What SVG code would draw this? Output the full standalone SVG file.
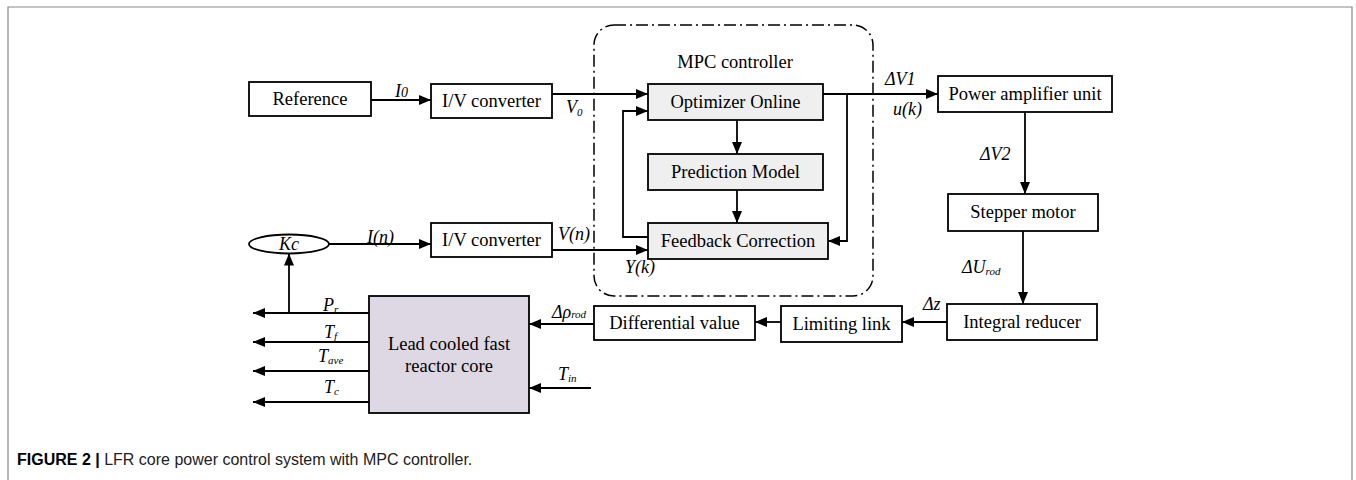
<svg xmlns="http://www.w3.org/2000/svg" width="1356" height="480" viewBox="0 0 1356 480">
<defs>
<marker id="ah" viewBox="0 0 12 10" refX="12" refY="5" markerWidth="12" markerHeight="10" markerUnits="userSpaceOnUse" orient="auto"><path d="M0,0 L12,5 L0,10 z" fill="#000"/></marker>
<style>
.box{fill:#fff;stroke:#000;stroke-width:1.8}
.gbox{fill:#efefef;stroke:#000;stroke-width:1.8}
.core{fill:#ddd8e3;stroke:#000;stroke-width:1.8}
.t{font-family:"Liberation Serif","Times New Roman",serif;font-size:18.5px;fill:#000;text-anchor:middle}
.l{font-family:"Liberation Serif","Times New Roman",serif;font-size:18px;font-style:italic;fill:#000}
.s{font-size:11px}
.c line,.c path,.c polyline{stroke:#000;stroke-width:1.8;fill:none}
.a{marker-end:url(#ah)}
.cap{font-family:"Liberation Sans",Arial,sans-serif;font-size:16px;fill:#222}
</style>
</defs>
<rect width="1356" height="480" fill="#fff"/>
<path d="M8,480 V7 H1352 V480" fill="none" stroke="#888" stroke-width="1.2"/>

<g id="mpc-boundary">
<rect x="594" y="25" width="279" height="271" rx="20" fill="none" stroke="#000" stroke-width="1.5" stroke-dasharray="12 4 2 4"/>
<text class="t" x="735" y="68">MPC controller</text>
</g>

<g id="reference"><rect class="box" x="249" y="82" width="122" height="34"/><text class="t" x="310" y="105">Reference</text></g>
<g id="iv1"><rect class="box" x="431" y="84" width="121" height="34"/><text class="t" x="491.5" y="107">I/V converter</text></g>
<g id="optimizer"><rect class="gbox" x="648" y="84" width="175" height="36"/><text class="t" x="735.5" y="108">Optimizer Online</text></g>
<g id="prediction"><rect class="gbox" x="648" y="154" width="175" height="36"/><text class="t" x="735.5" y="178">Prediction Model</text></g>
<g id="feedback"><rect class="gbox" x="648" y="223" width="180" height="36"/><text class="t" x="738" y="247">Feedback Correction</text></g>
<g id="power-amp"><rect class="box" x="938" y="76" width="174" height="36"/><text class="t" x="1025" y="100">Power amplifier unit</text></g>
<g id="stepper"><rect class="box" x="948" y="194" width="150" height="37"/><text class="t" x="1023" y="218">Stepper motor</text></g>
<g id="integral"><rect class="box" x="947" y="304" width="150" height="36"/><text class="t" x="1022" y="328">Integral reducer</text></g>
<g id="limiting"><rect class="box" x="781" y="306" width="121" height="36"/><text class="t" x="841.5" y="330">Limiting link</text></g>
<g id="differential"><rect class="box" x="594" y="306" width="161" height="34"/><text class="t" x="674.5" y="329">Differential value</text></g>
<g id="core"><rect class="core" x="369" y="296" width="160" height="117"/><text class="t" x="449" y="350">Lead cooled fast</text><text class="t" x="449" y="372">reactor core</text></g>
<g id="iv2"><rect class="box" x="431" y="223" width="121" height="34"/><text class="t" x="491.5" y="246">I/V converter</text></g>
<g id="kc"><ellipse cx="289" cy="244" rx="40" ry="9.5" fill="#fff" stroke="#000" stroke-width="1.8"/><text class="l" x="289" y="250" text-anchor="middle">Kc</text></g>

<g id="connectors" class="c">
<line class="a" x1="371" y1="100" x2="431" y2="100"/>
<line class="a" x1="552" y1="94" x2="648" y2="94"/>
<line class="a" x1="823" y1="94" x2="938" y2="94"/>
<polyline class="a" points="847,94 847,241 828,241"/>
<line class="a" x1="737" y1="120" x2="737" y2="154"/>
<line class="a" x1="737" y1="190" x2="737" y2="223"/>
<polyline class="a" points="648,237 623,237 623,111 648,111"/>
<line class="a" x1="552" y1="250" x2="648" y2="250"/>
<line class="a" x1="329" y1="244" x2="431" y2="244"/>
<line class="a" x1="1025" y1="112" x2="1025" y2="194"/>
<line class="a" x1="1023" y1="231" x2="1023" y2="304"/>
<line class="a" x1="947" y1="322" x2="902" y2="322"/>
<line class="a" x1="781" y1="322" x2="755" y2="322"/>
<line class="a" x1="594" y1="324" x2="529" y2="324"/>
<line class="a" x1="591" y1="388" x2="529" y2="388"/>
<line class="a" x1="369" y1="313" x2="253" y2="313"/>
<line class="a" x1="369" y1="342" x2="253" y2="342"/>
<line class="a" x1="369" y1="371" x2="253" y2="371"/>
<line class="a" x1="369" y1="402" x2="253" y2="402"/>
<line class="a" x1="289" y1="313" x2="289" y2="253.5"/>
</g>

<g id="labels">
<text class="l" x="395" y="97">I<tspan font-size="14">0</tspan></text>
<text class="l" x="566" y="113">V<tspan class="s" dy="3">0</tspan></text>
<text class="l" x="885" y="85">ΔV1</text>
<text class="l" x="893" y="115">u(k)</text>
<text class="l" x="980" y="160">ΔV2</text>
<text class="l" x="962" y="273">ΔU<tspan class="s" dy="2">rod</tspan></text>
<text class="l" x="923" y="310">Δz</text>
<text class="l" x="552" y="318">Δρ<tspan class="s" dy="0">rod</tspan></text>
<text class="l" x="558" y="380">T<tspan class="s" dy="2">in</tspan></text>
<text class="l" x="323" y="311">P<tspan class="s" dy="2">r</tspan></text>
<text class="l" x="324" y="338">T<tspan class="s" dy="2">f</tspan></text>
<text class="l" x="318" y="362">T<tspan class="s" dy="2">ave</tspan></text>
<text class="l" x="324" y="393">T<tspan class="s" dy="2">c</tspan></text>
<text class="l" x="367" y="243">I(n)</text>
<text class="l" x="558" y="240">V(n)</text>
<text class="l" x="625" y="273">Y(k)</text>
</g>

<text class="cap" x="17" y="465"><tspan font-weight="bold" fill="#000">FIGURE 2 | </tspan>LFR core power control system with MPC controller.</text>
</svg>
